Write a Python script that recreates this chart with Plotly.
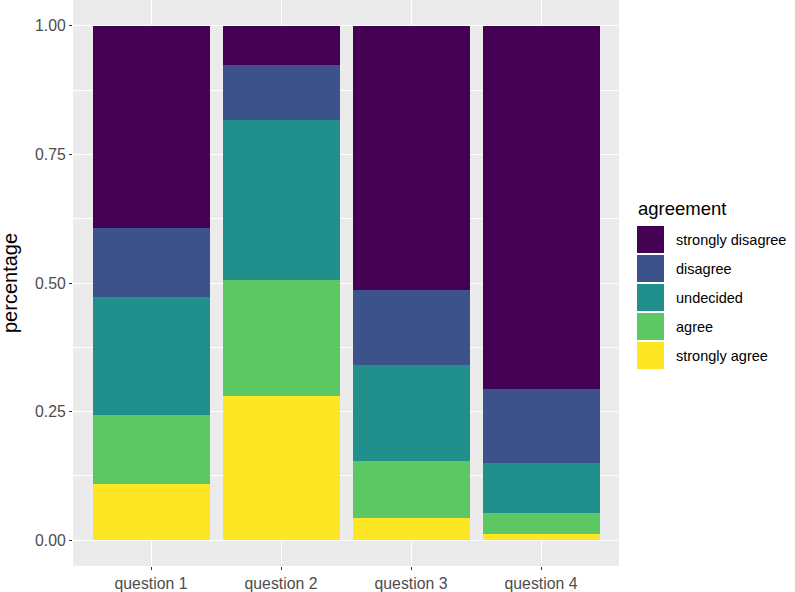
import plotly.graph_objects as go

questions = ["question 1", "question 2", "question 3", "question 4"]
levels = ["strongly agree", "agree", "undecided", "disagree", "strongly disagree"]
colors = ["#FDE725", "#5DC863", "#21908C", "#3B528B", "#440154"]
strongly_agree = [0.110, 0.280, 0.044, 0.012]
agree = [0.133, 0.225, 0.110, 0.041]
undecided = [0.230, 0.312, 0.187, 0.098]
disagree = [0.133, 0.107, 0.145, 0.143]
strongly_disagree = [0.394, 0.076, 0.514, 0.706]
series = [strongly_agree, agree, undecided, disagree, strongly_disagree]
y_ticks = [0, 0.25, 0.5, 0.75, 1.0]
y_ticklabels = ["0.00", "0.25", "0.50", "0.75", "1.00"]

W, H = 795, 592
L, R, T, B = 73, 176, 0, 26
pw, ph = W - L - R, H - T - B

fig = go.Figure()
for name, vals, col in zip(levels, series, colors):
    fig.add_trace(go.Bar(x=questions, y=vals, name=name, marker_color=col,
                         marker_line_width=0, showlegend=False))

font = "Arial, Liberation Sans, sans-serif"
fig.update_layout(
    barmode="stack", bargap=0.1, width=W, height=H,
    margin=dict(l=L, r=R, t=T, b=B, autoexpand=False),
    paper_bgcolor="white", plot_bgcolor="#EBEBEB",
    font=dict(family=font, color="#4D4D4D"),
    xaxis=dict(range=[-0.6, 3.6], showgrid=True, gridcolor="white", gridwidth=1.1,
               ticks="outside", ticklen=3, tickcolor="#333333", tickwidth=1,
               tickfont=dict(size=15.8, color="#4D4D4D"), zeroline=False, showline=False,
               automargin=False),
    yaxis=dict(range=[-0.05, 1.05], tickvals=y_ticks, ticktext=y_ticklabels,
               showgrid=True, gridcolor="white", gridwidth=1.1,
               minor=dict(showgrid=True, gridcolor="white", gridwidth=0.55, dtick=0.125, tick0=0),
               ticks="outside", ticklen=3, tickcolor="#333333", tickwidth=1,
               tickfont=dict(size=15.8, color="#4D4D4D"), zeroline=False, showline=False,
               automargin=False),
)

def px2paper(x, y):
    return (x - L) / pw, (H - B - y) / ph

# y-axis title
yx, yy = px2paper(10, 283)
fig.add_annotation(x=yx, y=yy, xref="paper", yref="paper", text="percentage",
                   showarrow=False, textangle=-90, xanchor="center", yanchor="middle",
                   font=dict(size=20, color="black", family=font))

# legend drawn manually (ggplot-style large keys)
tx, ty = px2paper(636, 209)
fig.add_annotation(x=tx, y=ty, xref="paper", yref="paper", text="agreement",
                   showarrow=False, xanchor="left", yanchor="middle",
                   font=dict(size=18.5, color="black", family=font))
key_top, key_step, key_h, key_x0, key_x1 = 226, 29, 27, 637, 664
for i, (name, col) in enumerate(zip(levels[::-1], colors[::-1])):
    y0 = key_top + i * key_step
    x0p, y0p = px2paper(key_x0, y0)
    x1p, y1p = px2paper(key_x1, y0 + key_h)
    fig.add_shape(type="rect", xref="paper", yref="paper", x0=x0p, x1=x1p,
                  y0=y1p, y1=y0p, fillcolor=col, line=dict(width=0))
    lx, ly = px2paper(674, y0 + key_h / 2)
    fig.add_annotation(x=lx, y=ly, xref="paper", yref="paper", text=name,
                       showarrow=False, xanchor="left", yanchor="middle",
                       font=dict(size=14.5, color="black", family=font))

fig.write_html("out.html", config={"displayModeBar": False},
               post_script="document.body.style.margin='0';")
